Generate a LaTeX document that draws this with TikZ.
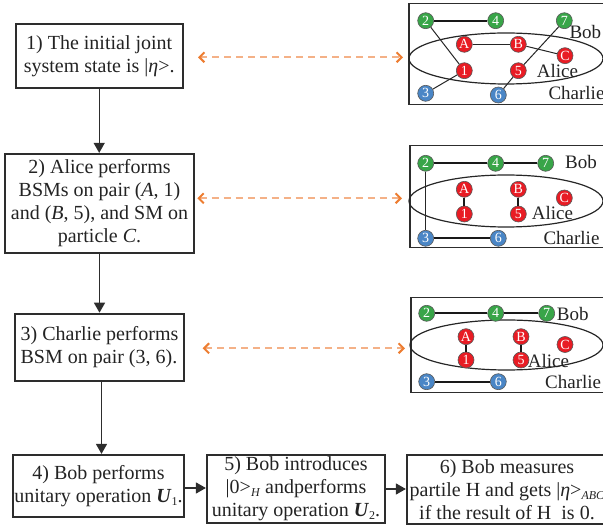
\documentclass[tikz,border=0pt]{standalone}
\usepackage{fontspec}
\setmainfont{Liberation Serif}
\usetikzlibrary{arrows.meta}
\definecolor{boxc}{RGB}{45,45,45}
\definecolor{txtc}{RGB}{35,35,35}
\definecolor{orD}{RGB}{237,125,49}
\definecolor{orL}{RGB}{244,177,135}
\definecolor{gnc}{RGB}{56,165,72}
\definecolor{rdc}{RGB}{232,28,36}
\definecolor{blc}{RGB}{74,134,198}
\newcommand\sbs[1]{\raisebox{-0.35ex}{\fontsize{12}{12}\selectfont #1}}
\begin{document}
\begin{tikzpicture}[x=1pt,y=-1pt,
  stepbox/.style={draw=boxc,line width=2.2pt,align=center,inner sep=0pt,font=\fontsize{20}{23}\selectfont,text=txtc},
  flow/.style={draw=boxc,line width=1.3pt,-{Triangle[width=11pt,length=10pt]}},
  link/.style={draw=orL,line width=2pt,dash pattern=on 7pt off 5pt,{Straight Barb[color=orD,length=5pt,width=10pt]}-{Straight Barb[color=orD,length=5pt,width=10pt]}},
  panel/.style={draw=boxc,line width=1.5pt},
  grp/.style={draw=black!85,line width=1.2pt},
  qbit/.style={circle,draw=black!65,line width=0.6pt,minimum size=16pt,inner sep=0pt,text=white,font=\fontsize{14}{14}\selectfont},
  qg/.style={qbit,fill=gnc}, qr/.style={qbit,fill=rdc}, qbl/.style={qbit,fill=blc},
  bond/.style={draw=black!90,line width=2pt},
  wire/.style={draw=black!85,line width=1pt},
  who/.style={anchor=west,inner sep=0pt,font=\fontsize{19}{19}\selectfont,text=txtc}
]
\useasboundingbox (0,0) rectangle (603,526);
\clip (0,0) rectangle (603,526);

% flow boxes
\node[stepbox,minimum width=167pt,minimum height=64pt] (box1) at (99.2,56.2)
  {1) The initial joint\\ system state is |\textit{η}>.};
\node[stepbox,minimum width=189pt,minimum height=99pt] (box2) at (99.5,203.5)
  {2) Alice performs\\ BSMs on pair (\textit{A}, 1)\\ and (\textit{B}, 5), and SM on\\ particle \textit{C}.};
\node[stepbox,minimum width=169pt,minimum height=67pt,align=left] (box3) at (99.5,347.3)
  {3) Charlie performs\\BSM on pair (3, 6).};
\node[stepbox,minimum width=171pt,minimum height=62pt] (box4) at (98.5,486)
  {4) Bob performs\\ unitary operation \textbf{\textit{U}}\sbs{1}.};
\node[stepbox,minimum width=178pt,minimum height=68pt] (box5) at (296,489)
  {5) Bob introduces\\ |0>\sbs{\textit{H}} andperforms\\ unitary operation \textbf{\textit{U}}\sbs{2}.};
\node[stepbox,minimum width=200pt,minimum height=69pt] (box6) at (507,489.5)
  {6) Bob measures\\ partile H and gets |\textit{η}>\sbs{\textit{ABC}}\\ if the result of H\ \ is 0.};

\draw[flow] (box1.south) -- (box1.south |- box2.north);
\draw[flow] (box2.south) -- (box2.south |- box3.north);
\draw[flow] ([xshift=2pt]box3.south) -- ([xshift=2pt]box3.south |- box4.north);
\draw[flow] (box4.east |- 0,488) -- (box5.west |- 0,488);
\draw[flow] (box5.east |- 0,489) -- (box6.west |- 0,489);

% panels
\node[panel,anchor=north west,minimum width=202pt,minimum height=101pt,inner sep=0pt] (pan1) at (408.3,3) {};
\node[panel,anchor=north west,minimum width=201pt,minimum height=102pt,inner sep=0pt] (pan2) at (409,145) {};
\node[panel,anchor=north west,minimum width=200pt,minimum height=95pt,inner sep=0pt] (pan3) at (410,297) {};

% dashed links
\coordinate (d1l) at (198,57.3);  \coordinate (d1r) at (403,57.3);
\coordinate (d2l) at (197.3,198.3); \coordinate (d2r) at (402,198.3);
\coordinate (d3l) at (202.7,348.3); \coordinate (d3r) at (405,348.3);
\draw[link] (d1l) -- (d1r);
\draw[link] (d2l) -- (d2r);
\draw[link] (d3l) -- (d3r);

% panel 1
\draw[grp] (506,58.5) ellipse [x radius=97, y radius=25.5];
\node[qg] (p1n2) at (425.7,20.7) {2};
\node[qg] (p1n4) at (495.7,20.7) {4};
\node[qg] (p1n7) at (564.3,20.7) {7};
\node[qr] (p1A) at (464.3,44.3) {A};
\node[qr] (p1B) at (518.3,44.3) {B};
\node[qr] (p1C) at (565,55.7) {C};
\node[qr] (p1n1) at (464.3,70.7) {1};
\node[qr] (p1n5) at (518.3,70.7) {5};
\node[qbl] (p1n3) at (425.7,93.3) {3};
\node[qbl] (p1n6) at (498.3,95) {6};
\draw[bond] (p1n2) -- (p1n4);
\draw[wire] (p1A) -- (p1B);
\draw[wire] (p1B) -- (p1C);
\draw[wire] (p1n2) -- (p1n1);
\draw[wire] (p1n1) -- (p1n3);
\draw[wire] (p1n7) -- (p1n5);
\draw[wire] (p1n5) -- (p1n6);
\node[who] (p1bob) at (569.3,31.7) {Bob};
\node[who] (p1alice) at (536.7,71.5) {Alice};
\node[who] (p1charlie) at (548.3,93.3) {Charlie};

% panel 2
\draw[grp] (506,201) ellipse [x radius=97, y radius=26];
\node[qg] (p2n2) at (425.7,163.3) {2};
\node[qg] (p2n4) at (495.7,163.3) {4};
\node[qg] (p2n7) at (545.7,163.3) {7};
\node[qr] (p2A) at (464.3,189.3) {A};
\node[qr] (p2B) at (518.3,189.3) {B};
\node[qr] (p2C) at (564.3,198) {C};
\node[qr] (p2n1) at (464.3,214) {1};
\node[qr] (p2n5) at (518.3,214) {5};
\node[qbl] (p2n3) at (425.7,238.3) {3};
\node[qbl] (p2n6) at (498.3,238.3) {6};
\draw[bond] (p2n2) -- (p2n4);
\draw[bond] (p2n4) -- (p2n7);
\draw[bond] (p2n3) -- (p2n6);
\draw[bond] (p2A) -- (p2n1);
\draw[bond] (p2B) -- (p2n5);
\draw[wire] (p2n2) -- (p2n3);
\node[who] (p2bob) at (565,161.7) {Bob};
\node[who] (p2alice) at (531.7,213.5) {Alice};
\node[who] (p2charlie) at (543.3,238.3) {Charlie};

% panel 3
\draw[grp] (506.5,345) ellipse [x radius=96.5, y radius=25];
\node[qg] (p3n2) at (426.7,313.3) {2};
\node[qg] (p3n4) at (495.7,313.3) {4};
\node[qg] (p3n7) at (546.7,313.3) {7};
\node[qr] (p3A) at (466,336.7) {A};
\node[qr] (p3B) at (521,336.7) {B};
\node[qr] (p3C) at (565,344.5) {C};
\node[qr] (p3n1) at (466,360) {1};
\node[qr] (p3n5) at (521,360) {5};
\node[qbl] (p3n3) at (426.7,381.7) {3};
\node[qbl] (p3n6) at (498.3,381.7) {6};
\draw[bond] (p3n2) -- (p3n4);
\draw[bond] (p3n4) -- (p3n7);
\draw[bond] (p3A) -- (p3n1);
\draw[bond] (p3B) -- (p3n5);
\draw[bond] (p3n3) -- (p3n6);
\node[who] (p3bob) at (556.7,314) {Bob};
\node[who] (p3alice) at (527.7,361.5) {Alice};
\node[who] (p3charlie) at (545,381.7) {Charlie};
\end{tikzpicture}
\end{document}
